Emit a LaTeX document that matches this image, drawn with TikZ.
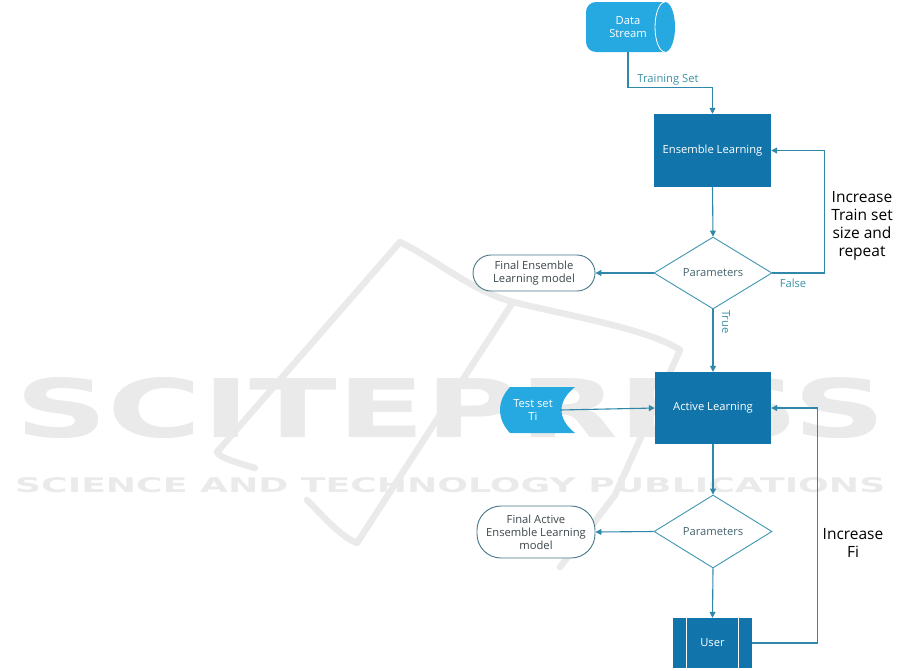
\documentclass[tikz,border=0pt]{standalone}
\usepackage{fontspec}
\usepackage{graphicx}
\setmainfont{Open Sans}
\newfontfamily\wmfont{DejaVu Sans}
\usetikzlibrary{shapes.geometric,arrows.meta,calc}
\definecolor{dboxC}{HTML}{1174AA}
\definecolor{lightC}{HTML}{26A8E0}
\definecolor{lineC}{HTML}{2F88AA}
\definecolor{diaC}{HTML}{4096B0}
\definecolor{diaT}{HTML}{46646E}
\definecolor{termC}{HTML}{467887}
\definecolor{termT}{HTML}{3C464B}
\definecolor{lblC}{HTML}{3C91A5}
\definecolor{wmC}{HTML}{EAEAEA}
\begin{document}
\begin{tikzpicture}[x=1pt,y=-1pt,
  every node/.style={inner sep=0pt, font=\fontsize{11.2}{13}\selectfont},
  arr/.style={draw=lineC, line width=1.1pt, -{Triangle[length=6pt,width=6pt]}},
  procbox/.style={rectangle, fill=dboxC, text=white, minimum width=117pt, minimum height=73pt},
  decis/.style={diamond, aspect=1.6, draw=diaC, line width=0.9pt, fill=white, minimum width=118pt, minimum height=72pt, text=diaT},
  term/.style={rectangle, rounded corners=18pt, draw=termC, line width=0.9pt, fill=white, align=center, text=termT},
  lbl/.style={text=lblC},
  note/.style={font=\fontsize{15.5}{18}\selectfont, align=center, text=black},
  wm/.style={draw=wmC, line width=6.5pt, line cap=round, line join=round}
]
\useasboundingbox (0,0) rectangle (901,670);

% ---- watermark ----
\draw[wm] (255,468) .. controls (235,462) and (220,458) .. (217,452) -- (400,242)
  .. controls (440,262) and (470,290) .. (513,302)
  .. controls (580,318) and (650,330) .. (680,350) -- (615,495) -- (560,567);
\draw[wm] (513,302) -- (357,543);
\draw[wm] (307,500) .. controls (325,518) and (340,536) .. (357,543);
\node[anchor=base west, text=wmC] (wm1) at (15,437) {\resizebox{870pt}{60pt}{\wmfont\bfseries SCITEPRESS}};
\node[anchor=base west, text=wmC] (wm2) at (15,492) {\resizebox{870pt}{15pt}{\wmfont\bfseries SCIENCE AND TECHNOLOGY PUBLICATIONS}};

% ---- Data stream ----
\fill[lightC] (596,2) -- (665,2) .. controls (670.5,2) and (675,13.2) .. (675,27)
  .. controls (675,40.8) and (670.5,52) .. (665,52) -- (596,52)
  .. controls (590.5,52) and (586,47.5) .. (586,42) -- (586,12)
  .. controls (586,6.5) and (590.5,2) .. (596,2) -- cycle;
\draw[white, line width=0.8pt] (665,2) .. controls (659.5,2) and (655,13.2) .. (655,27)
  .. controls (655,40.8) and (659.5,52) .. (665,52);
\node[minimum width=84pt, minimum height=50pt, text=white, align=center] (ds) at (628,27) {Data\\Stream};

% ---- Ensemble learning ----
\node[procbox] (el) at (712.5,150.5) {Ensemble Learning};
\node[decis] (p1) at (713,273) {Parameters};
\node[term, minimum width=122pt, minimum height=36pt] (fe) at (534,273) {Final Ensemble\\Learning model};

% ---- Active learning ----
\node[procbox, minimum width=116pt, minimum height=72pt] (ab) at (713,408) {Active Learning};
\fill[lightC] (510,387) -- (575,387) .. controls (557,401) and (557,419) .. (575,433)
  -- (510,433) .. controls (496.7,419) and (496.7,401) .. (510,387) -- cycle;
\node[minimum width=53pt, minimum height=46pt, text=white, align=center] (ts) at (533,410) {Test set\\Ti};
\node[decis, minimum height=73pt] (p2) at (713,531.5) {Parameters};
\node[term, rounded corners=24pt, minimum width=118pt, minimum height=52pt] (fa) at (536,532) {Final Active\\Ensemble Learning\\model};
\node[rectangle, fill=dboxC, text=white, minimum width=79pt, minimum height=50pt] (us) at (712.5,643) {User};
\draw[white, line width=1pt] ([xshift=14pt]us.north west) -- ([xshift=14pt]us.south west);
\draw[white, line width=1pt] ([xshift=-14pt]us.north east) -- ([xshift=-14pt]us.south east);

% ---- connectors ----
\draw[arr] (ds.south) |- ([yshift=26pt]el.north) -- (el.north);
\node[lbl] (lts) at (668,80) {Training Set};
\draw[arr] (el.south) -- (p1.north);
\draw[arr] (p1.west) -- (fe.east);
\draw[arr] (p1.east) -- ++(52,0) |- (el.east);
\node[lbl] (lfa) at (793,283) {False};
\draw[arr] (p1.south) -- (ab.north);
\node[lbl, rotate=-90] (ltr) at (726,322) {True};
\draw[arr] (ts.east) -- (ab.west);
\draw[arr] (ab.south) -- (p2.north);
\draw[arr] (p2.west) -- (fa.east);
\draw[arr] (p2.south) -- (us.north);
\draw[arr] (us.east) -- ++(65,0) |- (ab.east);

% ---- notes ----
\node[note] (n1) at (862,226) {Increase\\Train set\\size and\\repeat};
\node[note] (n2) at (853,543) {Increase\\Fi};
\end{tikzpicture}
\end{document}
